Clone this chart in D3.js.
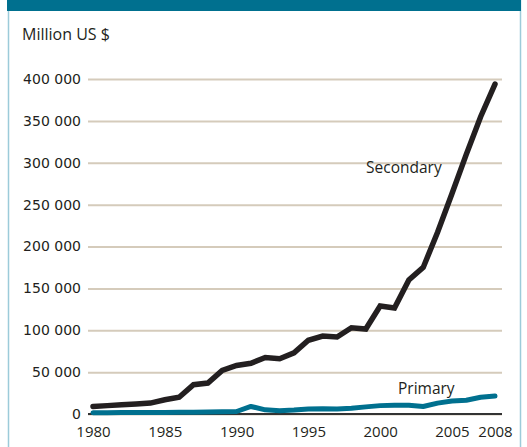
<!DOCTYPE html>
<html>
<head>
<meta charset="utf-8">
<script src="https://cdn.jsdelivr.net/npm/d3@7"></script>
<style>
  body { margin: 0; background: #fff; }
  svg { display: block; }
</style>
</head>
<body>
<div id="chart"></div>
<script>
// Data (million US $)
var years = [1980, 1981, 1982, 1983, 1984, 1985, 1986, 1987, 1988, 1989,
             1990, 1991, 1992, 1993, 1994, 1995, 1996, 1997, 1998, 1999,
             2000, 2001, 2002, 2003, 2004, 2005, 2006, 2007, 2008];
var secondary = [9000, 10000, 11000, 12000, 13000, 17000, 20000, 35000, 37000, 52000,
                 58000, 60500, 67500, 66000, 73000, 88000, 93000, 92000, 103000, 101500,
                 129000, 126500, 160000, 175000, 217000, 263000, 310000, 355000, 394000];
var primary = [1500, 1600, 1700, 1800, 1800, 1900, 2000, 2100, 2300, 2600,
               3000, 9000, 5000, 4000, 4800, 6000, 6200, 6000, 7000, 8500,
               10000, 10500, 10500, 9000, 13000, 15500, 16500, 20000, 21500];
var yTicks = [0, 50000, 100000, 150000, 200000, 250000, 300000, 350000, 400000];
var xTicks = [1980, 1985, 1990, 1995, 2000, 2005, 2008];

var width = 527, height = 447;
var teal = '#00708f';

var svg = d3.select('#chart').append('svg')
  .attr('width', width)
  .attr('height', height);

// frame
svg.append('rect')
  .attr('x', 8.5).attr('y', 0)
  .attr('width', 512).attr('height', height + 5)
  .style('fill', 'none')
  .style('stroke', '#9ccbd9')
  .style('stroke-width', 1.5);
svg.append('rect')
  .attr('x', 7).attr('y', 0)
  .attr('width', 514).attr('height', 11)
  .style('fill', teal);

var x = d3.scaleLinear().domain([1980, 2008]).range([93, 495]);
var y = d3.scaleLinear().domain([0, 400000]).range([414, 79]);

var fmt = function(d) { return d3.format(',')(d).replace(/,/g, ' '); };

// gridlines + y labels
var yAxis = svg.append('g')
  .attr('transform', 'translate(88,0)')
  .call(d3.axisLeft(y).tickValues(yTicks).tickSize(-414).tickPadding(7).tickFormat(fmt));
yAxis.select('.domain').remove();
yAxis.selectAll('line')
  .style('stroke', '#d5cbbb')
  .style('stroke-width', 2);
yAxis.selectAll('text')
  .style('font-family', 'DejaVu Sans')
  .style('font-size', '14px')
  .style('fill', '#231f20')
  .attr('x', -7);

// x labels
var xAxis = svg.append('g')
  .attr('transform', 'translate(0,414)')
  .call(d3.axisBottom(x).tickValues(xTicks).tickSize(0).tickPadding(12).tickFormat(d3.format('d')));
xAxis.select('.domain').remove();
xAxis.selectAll('text')
  .style('font-family', 'Open Sans')
  .style('font-size', '15px')
  .style('fill', '#231f20');

// baseline
svg.append('line')
  .attr('x1', 88).attr('x2', 502)
  .attr('y1', y(0)).attr('y2', y(0))
  .style('stroke', '#333')
  .style('stroke-width', 2);

var line = function(vals) {
  return d3.line()
    .x(function(d, i) { return x(years[i]); })
    .y(function(d) { return y(d); })(vals);
};

svg.append('path')
  .attr('d', line(primary))
  .style('fill', 'none')
  .style('stroke', teal)
  .style('stroke-width', 5)
  .style('stroke-linejoin', 'round')
  .style('stroke-linecap', 'round');

svg.append('path')
  .attr('d', line(secondary))
  .style('fill', 'none')
  .style('stroke', '#231f20')
  .style('stroke-width', 5.5)
  .style('stroke-linejoin', 'miter')
  .style('stroke-linecap', 'round');

// texts
svg.append('text')
  .attr('x', 22).attr('y', 40)
  .text('Million US $')
  .style('font-family', 'Open Sans')
  .style('font-size', '16px')
  .style('fill', '#231f20');

svg.append('text')
  .attr('x', 366).attr('y', 173)
  .text('Secondary')
  .style('font-family', 'Open Sans')
  .style('font-size', '15.5px')
  .style('fill', '#231f20');

svg.append('text')
  .attr('x', 398).attr('y', 394)
  .text('Primary')
  .style('font-family', 'Open Sans')
  .style('font-size', '15.5px')
  .style('fill', '#231f20');
</script>
</body>
</html>
